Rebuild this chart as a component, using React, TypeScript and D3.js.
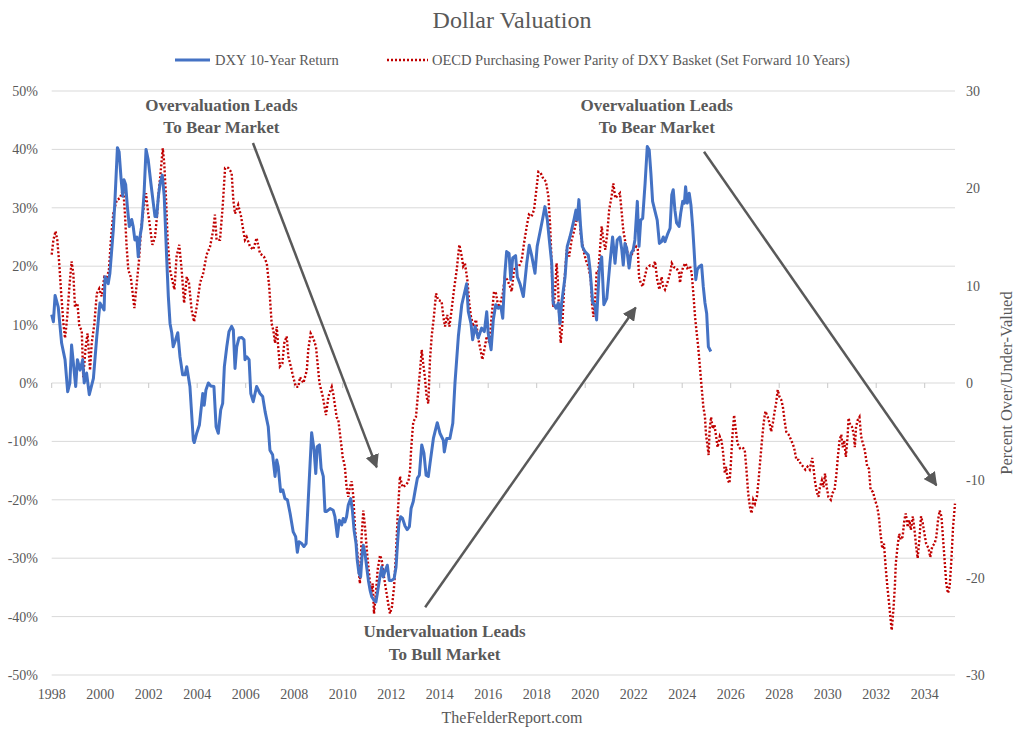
import React from 'react'
import * as d3 from 'd3'

// DXY 10-year return (%), left axis: [decimal year, value]
const dxyReturn: [number, number][] = [
  [1998.0, 11.7], [1998.07, 10.5], [1998.14, 15], [1998.27, 13], [1998.41, 6.8], [1998.55, 4],
  [1998.66, -1.5], [1998.75, 0], [1998.82, 6.5], [1998.99, -0.6], [1999.06, 4], [1999.17, 2.2],
  [1999.28, 4], [1999.34, 0], [1999.44, 1.7], [1999.55, -2], [1999.72, 0.8], [1999.86, 8],
  [1999.99, 13.7], [2000.16, 12.5], [2000.2, 18.2], [2000.33, 17], [2000.4, 18.8], [2000.54, 26.2],
  [2000.61, 31.4], [2000.71, 40.3], [2000.78, 39.6], [2000.86, 35], [2000.93, 32], [2000.98, 34.8],
  [2001.05, 34], [2001.12, 30.2], [2001.2, 26.8], [2001.3, 28], [2001.36, 26.8], [2001.43, 24.5],
  [2001.51, 25], [2001.57, 21.6], [2001.64, 25], [2001.71, 26.8], [2001.81, 32.5], [2001.89, 40],
  [2001.98, 38.2], [2002.09, 34.2], [2002.19, 30.8], [2002.26, 28.5], [2002.33, 28.5], [2002.4, 32],
  [2002.47, 34.2], [2002.56, 35.6], [2002.64, 32], [2002.74, 21.6], [2002.81, 14.8], [2002.88, 10.2],
  [2002.95, 8.6], [2003.01, 6.2], [2003.11, 7.4], [2003.2, 8.6], [2003.29, 4.5], [2003.4, 1.4],
  [2003.5, 1.4], [2003.57, 2.8], [2003.7, -0.6], [2003.84, -9.8], [2003.88, -10.2], [2003.98, -8.6],
  [2004.09, -7.2], [2004.23, -1.8], [2004.29, -3.8], [2004.36, -1.2], [2004.46, 0], [2004.56, -0.5],
  [2004.69, -0.6], [2004.78, -7.5], [2004.87, -8.6], [2004.97, -4.6], [2005.05, -3.5], [2005.12, 2.8],
  [2005.22, 6.2], [2005.31, 8.8], [2005.42, 9.7], [2005.49, 9.1], [2005.56, 2.5], [2005.63, 6.2],
  [2005.72, 7.7], [2005.84, 7.8], [2005.93, 7.4], [2005.97, 4], [2006.04, 4.5], [2006.14, 4],
  [2006.21, -1.8], [2006.31, -3.2], [2006.45, -0.6], [2006.59, -1.8], [2006.7, -2.3], [2006.8, -4.9],
  [2006.93, -7.5], [2007.0, -11.5], [2007.11, -12.3], [2007.21, -16], [2007.28, -13.2], [2007.34, -14.3],
  [2007.44, -18.6], [2007.53, -18.3], [2007.62, -19.8], [2007.72, -20], [2007.83, -22.3], [2007.96, -25.5],
  [2008.06, -26.3], [2008.13, -29], [2008.2, -27.2], [2008.31, -27.5], [2008.4, -28], [2008.49, -27.5],
  [2008.58, -20], [2008.72, -8.5], [2008.82, -11.5], [2008.89, -15.5], [2008.95, -10.9], [2009.04, -10.6],
  [2009.11, -14.6], [2009.2, -16], [2009.27, -22], [2009.34, -22], [2009.48, -21.5], [2009.61, -21.8],
  [2009.68, -22.9], [2009.78, -26.3], [2009.86, -23.5], [2009.96, -24.3], [2010.02, -23.2], [2010.09, -23.8],
  [2010.16, -22.9], [2010.23, -20.9], [2010.33, -19.8], [2010.4, -21.8], [2010.47, -25.2], [2010.55, -27.5],
  [2010.6, -30.3], [2010.67, -32.6], [2010.74, -33.2], [2010.81, -28.9], [2010.85, -27.8], [2010.92, -29.2],
  [2010.99, -31.5], [2011.06, -33.8], [2011.13, -35.5], [2011.2, -36.6], [2011.29, -37.2], [2011.37, -37.5],
  [2011.43, -36], [2011.51, -33.8], [2011.61, -31.5], [2011.67, -33.2], [2011.74, -32.3], [2011.84, -31.2],
  [2011.92, -33.8], [2012.02, -33.8], [2012.12, -33.5], [2012.2, -31.5], [2012.27, -26.9], [2012.32, -24],
  [2012.39, -22.9], [2012.47, -23.2], [2012.57, -24.5], [2012.66, -25.1], [2012.75, -24.6], [2012.82, -21.5],
  [2012.91, -20.3], [2012.98, -18.6], [2013.08, -16.3], [2013.16, -15.8], [2013.26, -10.6], [2013.35, -12],
  [2013.44, -15.8], [2013.53, -16], [2013.6, -13.8], [2013.74, -9.5], [2013.9, -6.8], [2014.01, -8.6],
  [2014.15, -9.8], [2014.19, -11.8], [2014.29, -9.5], [2014.42, -9.5], [2014.54, -6.9], [2014.63, 0],
  [2014.77, 8], [2014.91, 13.4], [2015.11, 17], [2015.18, 12.2], [2015.29, 10.2], [2015.36, 7.4],
  [2015.46, 9.7], [2015.59, 7.7], [2015.73, 9.4], [2015.84, 8.8], [2015.94, 12.2], [2016.0, 8.5],
  [2016.12, 5.7], [2016.21, 10.8], [2016.31, 13.4], [2016.42, 12.8], [2016.52, 13.1], [2016.6, 11.1],
  [2016.69, 18.8], [2016.76, 22.5], [2016.86, 22.2], [2016.93, 17.7], [2017.01, 21.4], [2017.13, 21.8],
  [2017.2, 18.2], [2017.31, 17], [2017.45, 14.8], [2017.59, 20.5], [2017.69, 23.6], [2017.79, 21.9],
  [2017.93, 18.8], [2018.02, 23.4], [2018.14, 25.9], [2018.25, 28.2], [2018.34, 30.2], [2018.44, 27.9],
  [2018.52, 24.5], [2018.62, 20.5], [2018.68, 13.7], [2018.8, 12.8], [2018.89, 13.7], [2018.96, 10.2],
  [2019.03, 13.7], [2019.17, 18.2], [2019.26, 23.4], [2019.37, 25], [2019.44, 26.2], [2019.55, 28.2],
  [2019.62, 29.6], [2019.67, 27.9], [2019.74, 31.4], [2019.81, 26.8], [2019.88, 23.4], [2019.99, 22.5],
  [2020.13, 21.9], [2020.2, 19.4], [2020.31, 13.7], [2020.4, 13.4], [2020.47, 10.8], [2020.58, 19.4],
  [2020.68, 21.6], [2020.77, 13.4], [2020.89, 14.5], [2021.02, 20.5], [2021.13, 25], [2021.23, 20.5],
  [2021.32, 24.5], [2021.43, 25], [2021.51, 22.8], [2021.57, 20.2], [2021.64, 23.9], [2021.71, 23.1],
  [2021.81, 19.7], [2021.89, 22.2], [2021.98, 22.8], [2022.05, 24.5], [2022.15, 31.1], [2022.22, 23.4],
  [2022.29, 27.9], [2022.37, 28.2], [2022.47, 34.2], [2022.56, 40.5], [2022.64, 39.9], [2022.71, 35.9],
  [2022.78, 31.1], [2022.88, 29.4], [2022.97, 27.9], [2023.06, 23.9], [2023.15, 24.2], [2023.22, 25],
  [2023.29, 24.2], [2023.39, 25.4], [2023.5, 26.5], [2023.57, 32.2], [2023.63, 33.1], [2023.7, 29.6],
  [2023.77, 27.4], [2023.87, 26.8], [2023.94, 29.1], [2024.02, 31.1], [2024.09, 30.8], [2024.14, 33.6],
  [2024.21, 30.8], [2024.29, 32.5], [2024.36, 30.5], [2024.43, 26.8], [2024.49, 22.8], [2024.56, 17.7],
  [2024.62, 19.4], [2024.7, 19.9], [2024.8, 20.2], [2024.87, 16.5], [2024.94, 13.7], [2025.01, 11.9],
  [2025.08, 6.2], [2025.18, 5.4],
]

// OECD PPP over/under-valuation, set forward 10 years, right axis: [decimal year, value]
const pppValuation: [number, number][] = [
  [1998.0, 13.2], [1998.07, 14.7], [1998.16, 15.6], [1998.23, 14.7], [1998.31, 12.3], [1998.38, 9.6],
  [1998.48, 6.2], [1998.55, 4.6], [1998.64, 6.8], [1998.73, 9.9], [1998.82, 12.5], [1998.89, 11.3],
  [1998.96, 7.8], [1999.06, 8.2], [1999.14, 5.8], [1999.24, 5.4], [1999.3, 0.6], [1999.4, 3.7],
  [1999.48, 5.1], [1999.58, 1.3], [1999.65, 4.1], [1999.76, 6.1], [1999.86, 9.2], [1999.96, 9.7],
  [2000.06, 8.9], [2000.17, 10.9], [2000.27, 10.8], [2000.36, 11.6], [2000.45, 15], [2000.54, 17.4],
  [2000.68, 18.8], [2000.82, 19], [2000.95, 20], [2001.02, 17.4], [2001.09, 14], [2001.16, 11.6],
  [2001.26, 10.9], [2001.34, 9.2], [2001.41, 7.7], [2001.51, 10.3], [2001.6, 12.6], [2001.68, 15.7],
  [2001.78, 17.8], [2001.89, 19.5], [2001.98, 17.4], [2002.05, 16.1], [2002.15, 14.2], [2002.26, 15],
  [2002.33, 16.8], [2002.4, 19.2], [2002.49, 21.6], [2002.58, 24.1], [2002.64, 22.6], [2002.71, 19.2],
  [2002.78, 14.7], [2002.88, 11.6], [2002.97, 10.6], [2003.06, 9.6], [2003.15, 13], [2003.26, 14.2],
  [2003.36, 11.6], [2003.46, 8.2], [2003.57, 10.9], [2003.66, 10.3], [2003.77, 7.5], [2003.87, 6.3],
  [2003.98, 7.8], [2004.12, 10.3], [2004.25, 11.3], [2004.39, 13.2], [2004.53, 14], [2004.66, 15.7],
  [2004.73, 17.3], [2004.8, 14.7], [2004.94, 14.7], [2005.05, 18.1], [2005.15, 22.1], [2005.28, 22.1],
  [2005.42, 21.6], [2005.49, 18.8], [2005.56, 17.4], [2005.69, 18.3], [2005.81, 17.1], [2005.9, 15.7],
  [2005.97, 14.7], [2006.04, 15], [2006.18, 14], [2006.31, 13.7], [2006.45, 14.9], [2006.59, 13.3],
  [2006.75, 13], [2006.87, 12.3], [2006.97, 9.9], [2007.07, 6.1], [2007.14, 5.4], [2007.21, 4.1],
  [2007.28, 5.8], [2007.34, 3.7], [2007.41, 1.7], [2007.51, 2], [2007.59, 4.1], [2007.69, 4.8],
  [2007.76, 2.7], [2007.86, 1.7], [2007.96, 0.6], [2008.07, -0.4], [2008.17, -0.4], [2008.24, 0.6],
  [2008.38, 0], [2008.52, 1.3], [2008.58, 3.4], [2008.68, 5.1], [2008.79, 4.6], [2008.9, 3.7],
  [2009.04, 0], [2009.18, -1.4], [2009.31, -3.3], [2009.41, -1.4], [2009.55, -0.4], [2009.61, -1.1],
  [2009.75, -3.5], [2009.82, -3.8], [2009.92, -5.9], [2010.0, -7.6], [2010.09, -8.6], [2010.16, -10.7],
  [2010.23, -11.7], [2010.3, -10.7], [2010.37, -10.1], [2010.44, -11.7], [2010.51, -15.1], [2010.58, -16.8],
  [2010.64, -18.5], [2010.71, -20.6], [2010.78, -15.8], [2010.85, -13.1], [2010.92, -14.8], [2011.01, -17.6],
  [2011.1, -19.9], [2011.17, -21.6], [2011.24, -20.6], [2011.29, -23.7], [2011.37, -21.6], [2011.44, -19.2],
  [2011.54, -17.7], [2011.61, -18.2], [2011.7, -19.9], [2011.79, -21.3], [2011.88, -22.7], [2011.95, -23.7],
  [2012.03, -23], [2012.12, -20.9], [2012.2, -17.5], [2012.27, -13.4], [2012.32, -11.4], [2012.36, -9.6],
  [2012.47, -10.7], [2012.61, -10.5], [2012.71, -10.1], [2012.78, -8.9], [2012.82, -6.9], [2012.87, -5.2],
  [2012.91, -4], [2013.02, -3.5], [2013.12, -0.7], [2013.19, 1.3], [2013.26, 3.4], [2013.32, 2],
  [2013.39, 0.6], [2013.46, -1.4], [2013.53, -2.1], [2013.6, 2.4], [2013.67, 4.8], [2013.76, 6.8],
  [2013.85, 9.2], [2013.94, 8.5], [2014.08, 8.4], [2014.15, 6.8], [2014.22, 5.8], [2014.31, 7],
  [2014.4, 5.8], [2014.49, 7.5], [2014.59, 9.6], [2014.7, 11.6], [2014.81, 14.2], [2014.91, 13],
  [2014.97, 12], [2015.04, 12.3], [2015.14, 10.6], [2015.22, 8.2], [2015.29, 6.8], [2015.39, 5.8],
  [2015.5, 6.5], [2015.57, 4.8], [2015.66, 3.7], [2015.76, 2.4], [2015.84, 3.4], [2015.94, 4.8],
  [2016.05, 4.1], [2016.14, 6.8], [2016.24, 9.4], [2016.32, 9.2], [2016.42, 7.8], [2016.52, 8.4],
  [2016.6, 9.2], [2016.69, 10.9], [2016.79, 10.6], [2016.9, 9.9], [2016.97, 9.4], [2017.06, 11.6],
  [2017.18, 12.1], [2017.27, 12], [2017.38, 12.6], [2017.48, 14.4], [2017.59, 16.1], [2017.68, 17.3],
  [2017.79, 17.1], [2017.89, 17.8], [2017.97, 19.5], [2018.07, 21.7], [2018.16, 21.6], [2018.27, 21],
  [2018.38, 20.7], [2018.48, 19.2], [2018.55, 16.4], [2018.59, 14], [2018.64, 10.6], [2018.68, 7.8],
  [2018.75, 8.9], [2018.82, 12.3], [2018.87, 10.6], [2018.93, 6.8], [2018.99, 4.1], [2019.06, 6.1],
  [2019.14, 10.3], [2019.24, 13.7], [2019.34, 13], [2019.44, 14.7], [2019.55, 15.7], [2019.65, 16.8],
  [2019.76, 17.4], [2019.81, 15.4], [2019.92, 13.7], [2020.03, 12.6], [2020.13, 12], [2020.23, 10.6],
  [2020.28, 8.2], [2020.34, 6.8], [2020.42, 8.9], [2020.47, 11.3], [2020.54, 11.3], [2020.61, 13.7],
  [2020.68, 16.1], [2020.75, 14.7], [2020.83, 13.7], [2020.91, 15.4], [2020.99, 17.8], [2021.09, 19.2],
  [2021.16, 20.5], [2021.24, 19], [2021.32, 19.2], [2021.43, 19.5], [2021.51, 17.4], [2021.57, 15.7],
  [2021.64, 14.7], [2021.71, 13.7], [2021.82, 12.8], [2021.92, 13.2], [2022.01, 13.7], [2022.1, 14],
  [2022.17, 13.7], [2022.22, 10.9], [2022.29, 10.3], [2022.37, 9.9], [2022.43, 10.6], [2022.54, 11.8],
  [2022.68, 12.1], [2022.81, 12], [2022.88, 12.5], [2022.97, 10.6], [2023.06, 9.6], [2023.15, 10.9],
  [2023.22, 9.9], [2023.29, 9.6], [2023.39, 10.3], [2023.5, 11.3], [2023.57, 12.3], [2023.66, 11.9],
  [2023.77, 11.8], [2023.87, 11.3], [2023.91, 10.3], [2023.98, 11.4], [2024.05, 12], [2024.14, 12.3],
  [2024.21, 11.8], [2024.32, 12], [2024.39, 11.3], [2024.46, 9.2], [2024.53, 6.8], [2024.6, 5.1],
  [2024.66, 3.7], [2024.73, 1.7], [2024.8, -0.4], [2024.87, -2.4], [2024.94, -3.5], [2024.98, -5.2],
  [2025.05, -6.6], [2025.09, -7.4], [2025.13, -4.8], [2025.19, -3.5], [2025.26, -4.7], [2025.33, -4.3],
  [2025.4, -5.5], [2025.46, -6.6], [2025.55, -5.5], [2025.62, -5.9], [2025.69, -7.2], [2025.76, -9.3],
  [2025.81, -8.6], [2025.88, -10], [2025.95, -10.3], [2026.0, -8.6], [2026.07, -5.5], [2026.14, -3.3],
  [2026.21, -4.8], [2026.28, -6.2], [2026.38, -6.7], [2026.49, -6.6], [2026.58, -6.9], [2026.65, -8.9],
  [2026.72, -11.3], [2026.79, -12.7], [2026.86, -13.4], [2026.93, -12], [2027.0, -12.4], [2027.08, -11.7],
  [2027.15, -10], [2027.22, -7.9], [2027.29, -5.9], [2027.36, -4.1], [2027.43, -2.9], [2027.53, -3.5],
  [2027.6, -4.1], [2027.67, -5], [2027.74, -4.1], [2027.8, -3.1], [2027.87, -2.1], [2027.94, -0.7],
  [2028.01, -1.4], [2028.08, -1.7], [2028.15, -2.4], [2028.22, -3.8], [2028.29, -5], [2028.39, -5.3],
  [2028.5, -5.9], [2028.61, -6.6], [2028.71, -7.9], [2028.8, -7.9], [2028.89, -8.3], [2028.99, -8.6],
  [2029.08, -8.9], [2029.17, -8.6], [2029.26, -8.9], [2029.36, -7.7], [2029.41, -8.6], [2029.47, -10],
  [2029.55, -11.2], [2029.62, -11.7], [2029.68, -10.7], [2029.76, -10], [2029.83, -10.7], [2029.89, -9.3],
  [2029.96, -10.7], [2030.03, -11.7], [2030.13, -12], [2030.2, -11.3], [2030.28, -11], [2030.35, -9.6],
  [2030.42, -7.6], [2030.49, -5.9], [2030.56, -5.3], [2030.62, -6.6], [2030.68, -5.9], [2030.75, -7.6],
  [2030.82, -5.5], [2030.86, -3.6], [2030.93, -4.3], [2031.0, -4.5], [2031.07, -5.2], [2031.12, -6.6],
  [2031.17, -4.5], [2031.24, -3.8], [2031.31, -3.5], [2031.38, -5.5], [2031.45, -6.2], [2031.53, -6.9],
  [2031.63, -8.6], [2031.7, -8.8], [2031.77, -11], [2031.87, -11.2], [2031.95, -12], [2032.04, -12.7],
  [2032.11, -13.7], [2032.18, -15.5], [2032.25, -17], [2032.32, -16.5], [2032.39, -18.9], [2032.46, -20.9],
  [2032.53, -22.6], [2032.6, -24.4], [2032.64, -25.4], [2032.71, -23.3], [2032.77, -20.9], [2032.81, -18.5],
  [2032.88, -16.8], [2032.95, -15.5], [2033.01, -16.1], [2033.09, -15.8], [2033.16, -14.1], [2033.22, -13.4],
  [2033.3, -14.8], [2033.37, -14.1], [2033.43, -15.1], [2033.51, -13.7], [2033.58, -15.1], [2033.65, -16.8],
  [2033.71, -18], [2033.78, -16.1], [2033.85, -13.7], [2033.92, -14.4], [2033.99, -15.5], [2034.06, -16.5],
  [2034.16, -17], [2034.23, -17.9], [2034.31, -16.8], [2034.41, -16.5], [2034.48, -15.8], [2034.55, -14.1],
  [2034.62, -13.1], [2034.69, -13.7], [2034.76, -16.1], [2034.83, -18.5], [2034.89, -20.6], [2034.96, -21.6],
  [2035.03, -20.9], [2035.1, -18.2], [2035.17, -14.8], [2035.25, -12.4],
]

const leftTicks = [-50, -40, -30, -20, -10, 0, 10, 20, 30, 40, 50]
const rightTicks = [-30, -20, -10, 0, 10, 20, 30]
const yearTicks = [1998, 2000, 2002, 2004, 2006, 2008, 2010, 2012, 2014, 2016, 2018, 2020, 2022, 2024, 2026, 2028, 2030, 2032, 2034]

const seriesNames = ['DXY 10-Year Return', 'OECD Purchasing Power Parity of DXY Basket (Set Forward 10 Years)']

// annotation arrows in data units (year, left-axis %)
const arrows = [
  { from: [2006.3, 41.1], to: [2011.4, -14.4] },
  { from: [2013.4, -38.4], to: [2022.08, 12.9] },
  { from: [2024.9, 39.6], to: [2034.48, -17.5] },
]
const notes = [
  { at: [2005.0, 46.6], lines: ['Overvaluation Leads', 'To Bear Market'] },
  { at: [2022.95, 46.6], lines: ['Overvaluation Leads', 'To Bear Market'] },
  { at: [2014.2, -43.5], lines: ['Undervaluation Leads', 'To Bull Market'] },
]

const W = 1024
const H = 741
const plot = { left: 51.7, right: 955, top: 91, bottom: 675 }
const font = '"Liberation Serif", "DejaVu Serif", serif'
const textGray = '#595959'
const blue = '#4472C4'
const red = '#C00000'

export default function App() {
  const x = d3.scaleLinear().domain([1998, 2035.25]).range([plot.left, plot.right])
  const yL = d3.scaleLinear().domain([-50, 50]).range([plot.bottom, plot.top])
  const yR = d3.scaleLinear().domain([-30, 30]).range([plot.bottom, plot.top])

  const blueLine = d3
    .line<[number, number]>()
    .x((d) => x(d[0]))
    .y((d) => yL(d[1]))
  const redLine = d3
    .line<[number, number]>()
    .x((d) => x(d[0]))
    .y((d) => yR(d[1]))

  const zeroY = yL(0)

  return (
    <div style={{ position: 'absolute', left: 0, top: 0 }}>
      <svg width={W} height={H} style={{ display: 'block', background: '#fff' }} fontFamily={font}>
        <defs>
          <marker id="head" viewBox="0 0 10 10" refX="9" refY="5" markerWidth="5.5" markerHeight="5.5" orient="auto">
            <path d="M0,0 L10,5 L0,10 z" fill={textGray} />
          </marker>
        </defs>

        <text x={512} y={28} textAnchor="middle" fontSize={24} fill={textGray}>
          Dollar Valuation
        </text>

        {/* legend */}
        <line x1={175} x2={210} y1={60} y2={60} stroke={blue} strokeWidth={3} />
        <text x={215} y={65} fontSize={14.5} fill={textGray}>
          {seriesNames[0]}
        </text>
        <line x1={387} x2={428} y1={60} y2={60} stroke={red} strokeWidth={2.4} strokeDasharray="2 2" />
        <text x={432} y={65} fontSize={14.5} fill={textGray}>
          {seriesNames[1]}
        </text>

        {/* gridlines */}
        {leftTicks.map((t) => (
          <line key={t} x1={plot.left} x2={plot.right} y1={yL(t)} y2={yL(t)} stroke="#d9d9d9" strokeWidth={1} />
        ))}
        {/* category axis ticks on the zero line */}
        {yearTicks.map((t) => (
          <line key={t} x1={x(t)} x2={x(t)} y1={zeroY} y2={zeroY + 5} stroke="#c8c8c8" strokeWidth={1} />
        ))}

        {/* left axis labels */}
        {leftTicks.map((t) => (
          <text key={t} x={38} y={yL(t) + 5} textAnchor="end" fontSize={14} fill={textGray}>
            {`${t}%`}
          </text>
        ))}
        {/* right axis labels */}
        {rightTicks.map((t) => (
          <text key={t} x={966} y={yR(t) + 5} fontSize={14} fill={textGray}>
            {t}
          </text>
        ))}
        <text
          transform={`translate(1012,${yR(0)}) rotate(-90)`}
          textAnchor="middle"
          fontSize={16.5}
          fill={textGray}
        >
          Percent Over/Under-Valued
        </text>

        {/* year labels */}
        {yearTicks.map((t) => (
          <text key={t} x={x(t)} y={699} textAnchor="middle" fontSize={14} fill={textGray}>
            {t}
          </text>
        ))}

        {/* series */}
        <path d={redLine(pppValuation) ?? ''} fill="none" stroke={red} strokeWidth={2.4} strokeDasharray="2 2" />
        <path d={blueLine(dxyReturn) ?? ''} fill="none" stroke={blue} strokeWidth={3} strokeLinejoin="round" />

        {/* annotations */}
        {arrows.map((a, i) => (
          <line
            key={i}
            x1={x(a.from[0])}
            y1={yL(a.from[1])}
            x2={x(a.to[0])}
            y2={yL(a.to[1])}
            stroke={textGray}
            strokeWidth={2.5}
            markerEnd="url(#head)"
          />
        ))}
        {notes.map((n, i) => (
          <text key={i} x={x(n.at[0])} y={yL(n.at[1])} textAnchor="middle" fontSize={17} fontWeight="bold" fill={textGray}>
            {n.lines.map((l, j) => (
              <tspan key={j} x={x(n.at[0])} dy={j === 0 ? 0 : 22.5}>
                {l}
              </tspan>
            ))}
          </text>
        ))}

        <text x={512} y={723} textAnchor="middle" fontSize={16} fill={textGray}>
          TheFelderReport.com
        </text>
      </svg>
    </div>
  )
}
